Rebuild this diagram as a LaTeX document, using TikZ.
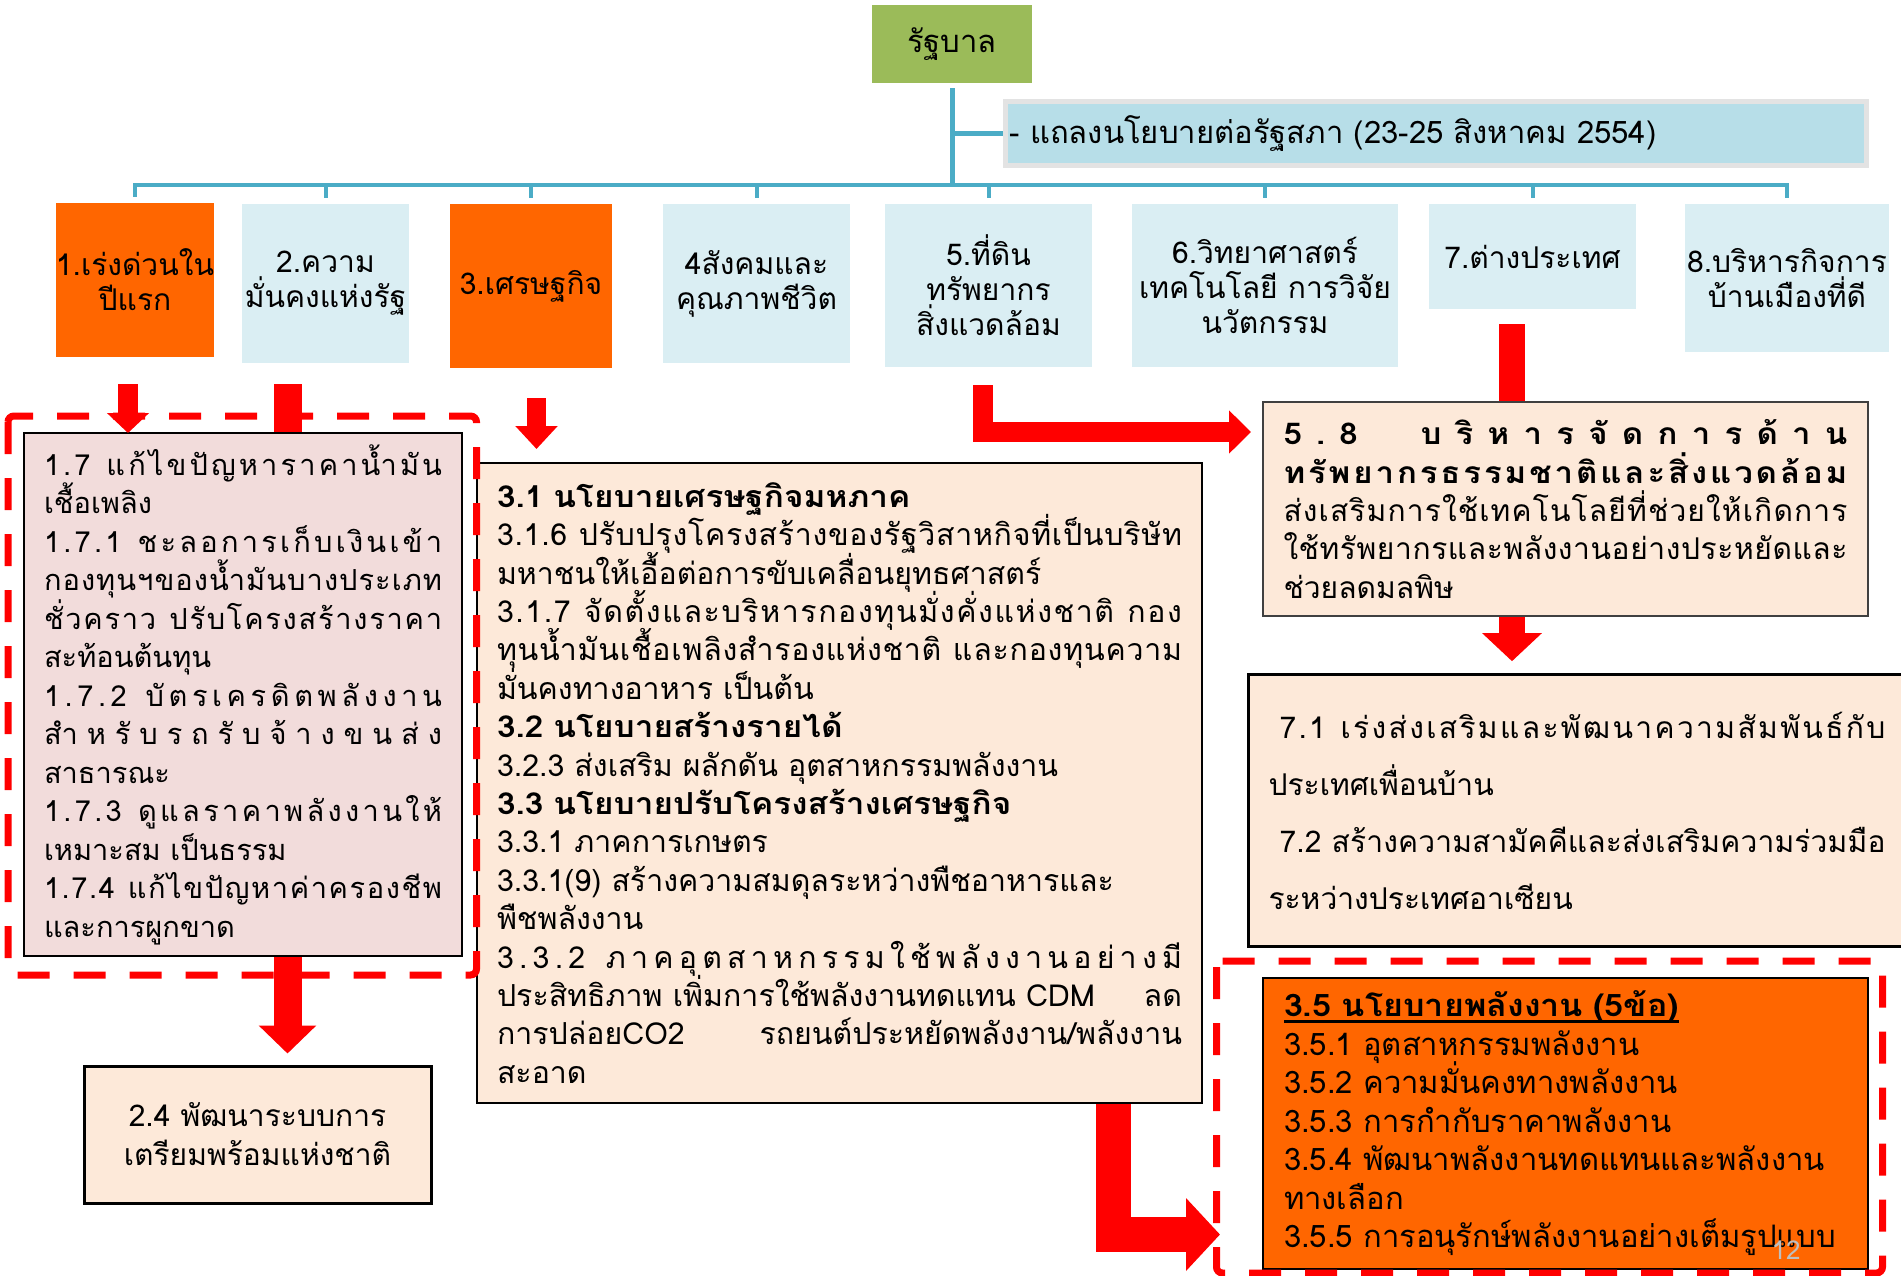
\documentclass[tikz,border=0pt]{standalone}
\usepackage{fontspec}
\setmainfont{Loma}[Script=Thai, BoldFeatures={FakeStretch=1.1}]
\usetikzlibrary{arrows.meta,calc}
\definecolor{orng}{HTML}{FF6600}
\definecolor{lblue}{HTML}{DAEEF3}
\definecolor{pblue}{HTML}{B7DEE8}
\definecolor{pgrey}{HTML}{E3E3E3}
\definecolor{grn}{HTML}{9BBB59}
\definecolor{connc}{HTML}{4BACC6}
\definecolor{pinkb}{HTML}{F2DCDB}
\definecolor{peach}{HTML}{FDE9D9}
\definecolor{rred}{HTML}{FF0000}
\def\distA#1|{\ifx\relax#1\unskip\else#1\hfil\expandafter\distA\fi}
\newcommand\dist[2][\hsize]{\makebox[#1][s]{\distA#2|\relax|}}
\newcommand\jline[2][\hsize]{\makebox[#1][s]{\spaceskip=\fontdimen2\font plus 1fil\relax #2}}
\newsavebox\ulsave
\newcommand\ulbox[1]{\sbox\ulsave{#1}\rlap{\rule[-6pt]{\wd\ulsave}{2.5pt}}\usebox\ulsave}
\newcommand\fs[2]{\fontsize{#1}{#2}\selectfont\lineskiplimit=-100pt\relax}
\tikzset{
  rowbox/.style={inner sep=0pt, align=center, font=\fs{30}{35}},
  txtbox/.style={draw=black, line width=2pt, inner ysep=0pt, align=left, anchor=north west},
  conn/.style={draw=connc, line width=5pt},
  drop/.style={draw=connc, line width=4pt},
  redarr/.style={draw=rred, line width=#1, line join=miter},
  redframe/.style={draw=rred, line width=7pt, dash pattern=on 32pt off 24pt, rounded corners=6pt}
}
\begin{document}
\begin{tikzpicture}[x=1pt,y=-1pt]
\useasboundingbox (0,0) rectangle (1901,1275);
\fill[white] (0,0) rectangle (1901,1275);
% top
\node[fill=grn, minimum width=160pt, minimum height=78pt, inner sep=0pt, font=\fs{31}{36}] (gov) at (952,44) {รัฐบาล};
\node[fill=pblue, draw=pgrey, line width=5pt, minimum width=861pt, minimum height=64pt, inner xsep=4pt, inner ysep=0pt, text width=853pt, align=left, font=\fs{31}{36}] (parl) at (1436,133.5) {- แถลงนโยบายต่อรัฐสภา (23-25 สิงหาคม 2554)};
\coordinate (bus) at (952,184.5);
% row
\node[rowbox, fill=orng, minimum width=156pt, minimum height=154pt] (b1) at (135,280) {1.เร่งด่วนใน\\ปีแรก};
\node[rowbox, fill=lblue, minimum width=167pt, minimum height=159pt] (b2) at (325.5,283.5) {2.ความ\\มั่นคงแห่งรัฐ};
\node[rowbox, fill=orng, minimum width=162pt, minimum height=164pt] (b3) at (531,286) {3.เศรษฐกิจ};
\node[rowbox, fill=lblue, minimum width=187pt, minimum height=159pt] (b4) at (756.5,283.5) {4สังคมและ\\คุณภาพชีวิต};
\node[rowbox, fill=lblue, minimum width=207pt, minimum height=163pt] (b5) at (988.5,285.5) {5.ที่ดิน\\ทรัพยากร\\สิ่งแวดล้อม};
\node[rowbox, fill=lblue, minimum width=266pt, minimum height=163pt] (b6) at (1265,285.5) {6.วิทยาศาสตร์\\เทคโนโลยี การวิจัย\\นวัตกรรม};
\node[rowbox, fill=lblue, minimum width=207pt, minimum height=105pt] (b7) at (1532.5,256.5) {7.ต่างประเทศ};
\node[rowbox, fill=lblue, minimum width=204pt, minimum height=148pt] (b8) at (1787,278) {8.บริหารกิจการ\\บ้านเมืองที่ดี};
% tree connectors
\draw[conn] ([yshift=-5pt]gov.south) -- (gov.south |- bus);
\draw[conn] (gov.south |- parl.west) -- (parl.west);
\draw[drop, line join=miter] ([yshift=6pt]b1.north) -- (b1.north |- bus) -- (b8.north |- bus) -- ([yshift=6pt]b8.north);
\foreach \b in {b2,b3,b4,b5,b6,b7}{\draw[drop] (\b.north |- bus) -- ([yshift=6pt]\b.north);}
% lower boxes
\node[txtbox, fill=peach, line width=3pt, anchor=center, align=center, minimum width=347pt, minimum height=137pt, font=\fs{30}{39}] (b24) at (257.5,1134.5) {2.4 พัฒนาระบบการ\\เตรียมพร้อมแห่งชาติ};
\draw[redarr=28pt, -{Triangle[length=28pt,width=56pt]}] ($(b2.south)+(-38,21)$) -- ($(b24.north)+(30,-11)$);
\node[txtbox, fill=pinkb, minimum width=438pt, minimum height=523pt, inner xsep=20pt, text width=398pt, font=\fs{29}{38.5}] (b17) at (23,432) {%
\dist{1|.|7| |แ|ก้|ไ|ข|ปั|ญ|ห|า|ร|า|ค|า|น้ำ|มั|น}\\
เชื้อเพลิง\\
\dist{1|.|7|.|1| |ช|ะ|ล|อ|ก|า|ร|เ|ก็|บ|เ|งิ|น|เ|ข้|า}\\
\dist{ก|อ|ง|ทุ|น|ฯ|ข|อ|ง|น้ำ|มั|น|บ|า|ง|ป|ร|ะ|เ|ภ|ท}\\
\dist{ชั่|ว|ค|ร|า|ว| |ป|รั|บ|โ|ค|ร|ง|ส|ร้|า|ง|ร|า|ค|า}\\
สะท้อนต้นทุน\\
\dist{1|.|7|.|2| |บั|ต|ร|เ|ค|ร|ดิ|ต|พ|ลั|ง|ง|า|น}\\
\dist{สำ|ห|รั|บ|ร|ถ|รั|บ|จ้|า|ง|ข|น|ส่|ง}\\
สาธารณะ\\
\dist{1|.|7|.|3| |ดู|แ|ล|ร|า|ค|า|พ|ลั|ง|ง|า|น|ใ|ห้}\\
เหมาะสม เป็นธรรม\\
\dist{1|.|7|.|4| |แ|ก้|ไ|ข|ปั|ญ|ห|า|ค่|า|ค|ร|อ|ง|ชี|พ}\\
และการผูกขาด};
\node[txtbox, fill=peach, minimum width=725pt, minimum height=640pt, inner xsep=20pt, text width=685pt, font=\fs{30.3}{38.4}] (b3x) at (476,462) {%
\textbf{3.1 นโยบายเศรษฐกิจมหภาค}\\
\dist{3|.|1|.|6| |ป|รั|บ|ป|รุ|ง|โ|ค|ร|ง|ส|ร้|า|ง|ข|อ|ง|รั|ฐ|วิ|ส|า|ห|กิ|จ|ที่|เ|ป็|น|บ|ริ|ษั|ท}\\
มหาชนให้เอื้อต่อการขับเคลื่อนยุทธศาสตร์\\
\dist{3|.|1|.|7| |จั|ด|ตั้|ง|แ|ล|ะ|บ|ริ|ห|า|ร|ก|อ|ง|ทุ|น|มั่|ง|คั่|ง|แ|ห่|ง|ช|า|ติ| |ก|อ|ง}\\
\dist{ทุ|น|น้ำ|มั|น|เ|ชื้|อ|เ|พ|ลิ|ง|สำ|ร|อ|ง|แ|ห่|ง|ช|า|ติ| |แ|ล|ะ|ก|อ|ง|ทุ|น|ค|ว|า|ม}\\
มั่นคงทางอาหาร เป็นต้น\\
\textbf{3.2 นโยบายสร้างรายได้}\\
3.2.3 ส่งเสริม ผลักดัน อุตสาหกรรมพลังงาน\\
\textbf{3.3 นโยบายปรับโครงสร้างเศรษฐกิจ}\\
3.3.1 ภาคการเกษตร\\
3.3.1(9) สร้างความสมดุลระหว่างพืชอาหารและ\\
พืชพลังงาน\\
\dist{3|.|3|.|2| |ภ|า|ค|อุ|ต|ส|า|ห|ก|ร|ร|ม|ใ|ช้|พ|ลั|ง|ง|า|น|อ|ย่|า|ง|มี}\\
\jline{ประสิทธิภาพ เพิ่มการใช้พลังงานทดแทน CDM\hfill ลด}\\
\jline{การปล่อยCO2\hfill รถยนต์ประหยัดพลังงาน/พลังงาน}\\
สะอาด};
\draw[redarr=26pt, -{Triangle[length=28pt,width=58pt]}] ($(b7.south)+(-20.5,15)$) -- ($(b7.south)+(-20.5,352)$) coordinate (a7end);
\node[txtbox, fill=peach, line width=3pt, minimum width=668pt, minimum height=272pt, inner xsep=20pt, text width=628pt, font=\fs{30}{57}] (b7x) at (1247,673) {%
\hspace*{11pt}\dist[606pt]{7|.|1| |เ|ร่|ง|ส่|ง|เ|ส|ริ|ม|แ|ล|ะ|พั|ฒ|น|า|ค|ว|า|ม|สั|ม|พั|น|ธ์|กั|บ}\\
ประเทศเพื่อนบ้าน\\
\hspace*{11pt}\dist[606pt]{7|.|2| |ส|ร้|า|ง|ค|ว|า|ม|ส|า|มั|ค|คี|แ|ล|ะ|ส่|ง|เ|ส|ริ|ม|ค|ว|า|ม|ร่|ว|ม|มื|อ}\\
ระหว่างประเทศอาเซียน};
\node[txtbox, fill=peach, draw=black!75, minimum width=605pt, minimum height=214pt, inner xsep=20.5pt, text width=564pt, font=\fs{30}{38.4}] (b58) at (1262,401) {%
\textbf{\dist{5|.|8| | |บ|ริ|ห|า|ร|จั|ด|ก|า|ร|ด้|า|น}}\\
\textbf{\dist{ท|รั|พ|ย|า|ก|ร|ธ|ร|ร|ม|ช|า|ติ|แ|ล|ะ|สิ่|ง|แ|ว|ด|ล้|อ|ม}}\\
\dist{ส่|ง|เ|ส|ริ|ม|ก|า|ร|ใ|ช้|เ|ท|ค|โ|น|โ|ล|ยี|ที่|ช่|ว|ย|ใ|ห้|เ|กิ|ด|ก|า|ร}\\
\dist{ใ|ช้|ท|รั|พ|ย|า|ก|ร|แ|ล|ะ|พ|ลั|ง|ง|า|น|อ|ย่|า|ง|ป|ร|ะ|ห|ยั|ด|แ|ล|ะ}\\
ช่วยลดมลพิษ};
\node[txtbox, fill=orng, minimum width=605pt, minimum height=291pt, inner xsep=21pt, text width=563pt, font=\fs{31}{38.5}] (b35) at (1262,977) {%
\ulbox{\textbf{3.5 นโยบายพลังงาน (5ข้อ)}}\\
3.5.1 อุตสาหกรรมพลังงาน\\
3.5.2 ความมั่นคงทางพลังงาน\\
3.5.3 การกำกับราคาพลังงาน\\
3.5.4 พัฒนาพลังงานทดแทนและพลังงาน\\
ทางเลือก\\
3.5.5 การอนุรักษ์พลังงานอย่างเต็มรูปแบบ};
% dashed frames
\draw[redframe] (8,416) rectangle (476.5,975);
\draw[redframe] (1216.5,961) rectangle (1882.5,1273);
% red arrows
\draw[redarr=20pt, -{Triangle[length=20pt,width=41pt]}] ($(b1.south)+(-7,27)$) -- ($(b17.north west)+(105,1)$);
\draw[redarr=19pt, -{Triangle[length=23pt,width=41pt]}] ($(b3.south)+(5.5,30)$) -- ($(b3x.north west)+(60.5,-13)$);
\draw[redarr=20pt, -{Triangle[length=22pt,width=42pt]}] ($(b5.south)+(-6,18)$) |- ($(b58.north west)+(-11,31)$);
\draw[redarr=35pt, -{Triangle[length=34pt,width=71pt]}] ($(b3x.south)+(273.5,0)$) |- ($(b35.south west)+(-42,-35.5)$);
\node[text=black!25, font=\fs{26}{30}] (pnum) at (1786,1250) {12};
\end{tikzpicture}
\end{document}
